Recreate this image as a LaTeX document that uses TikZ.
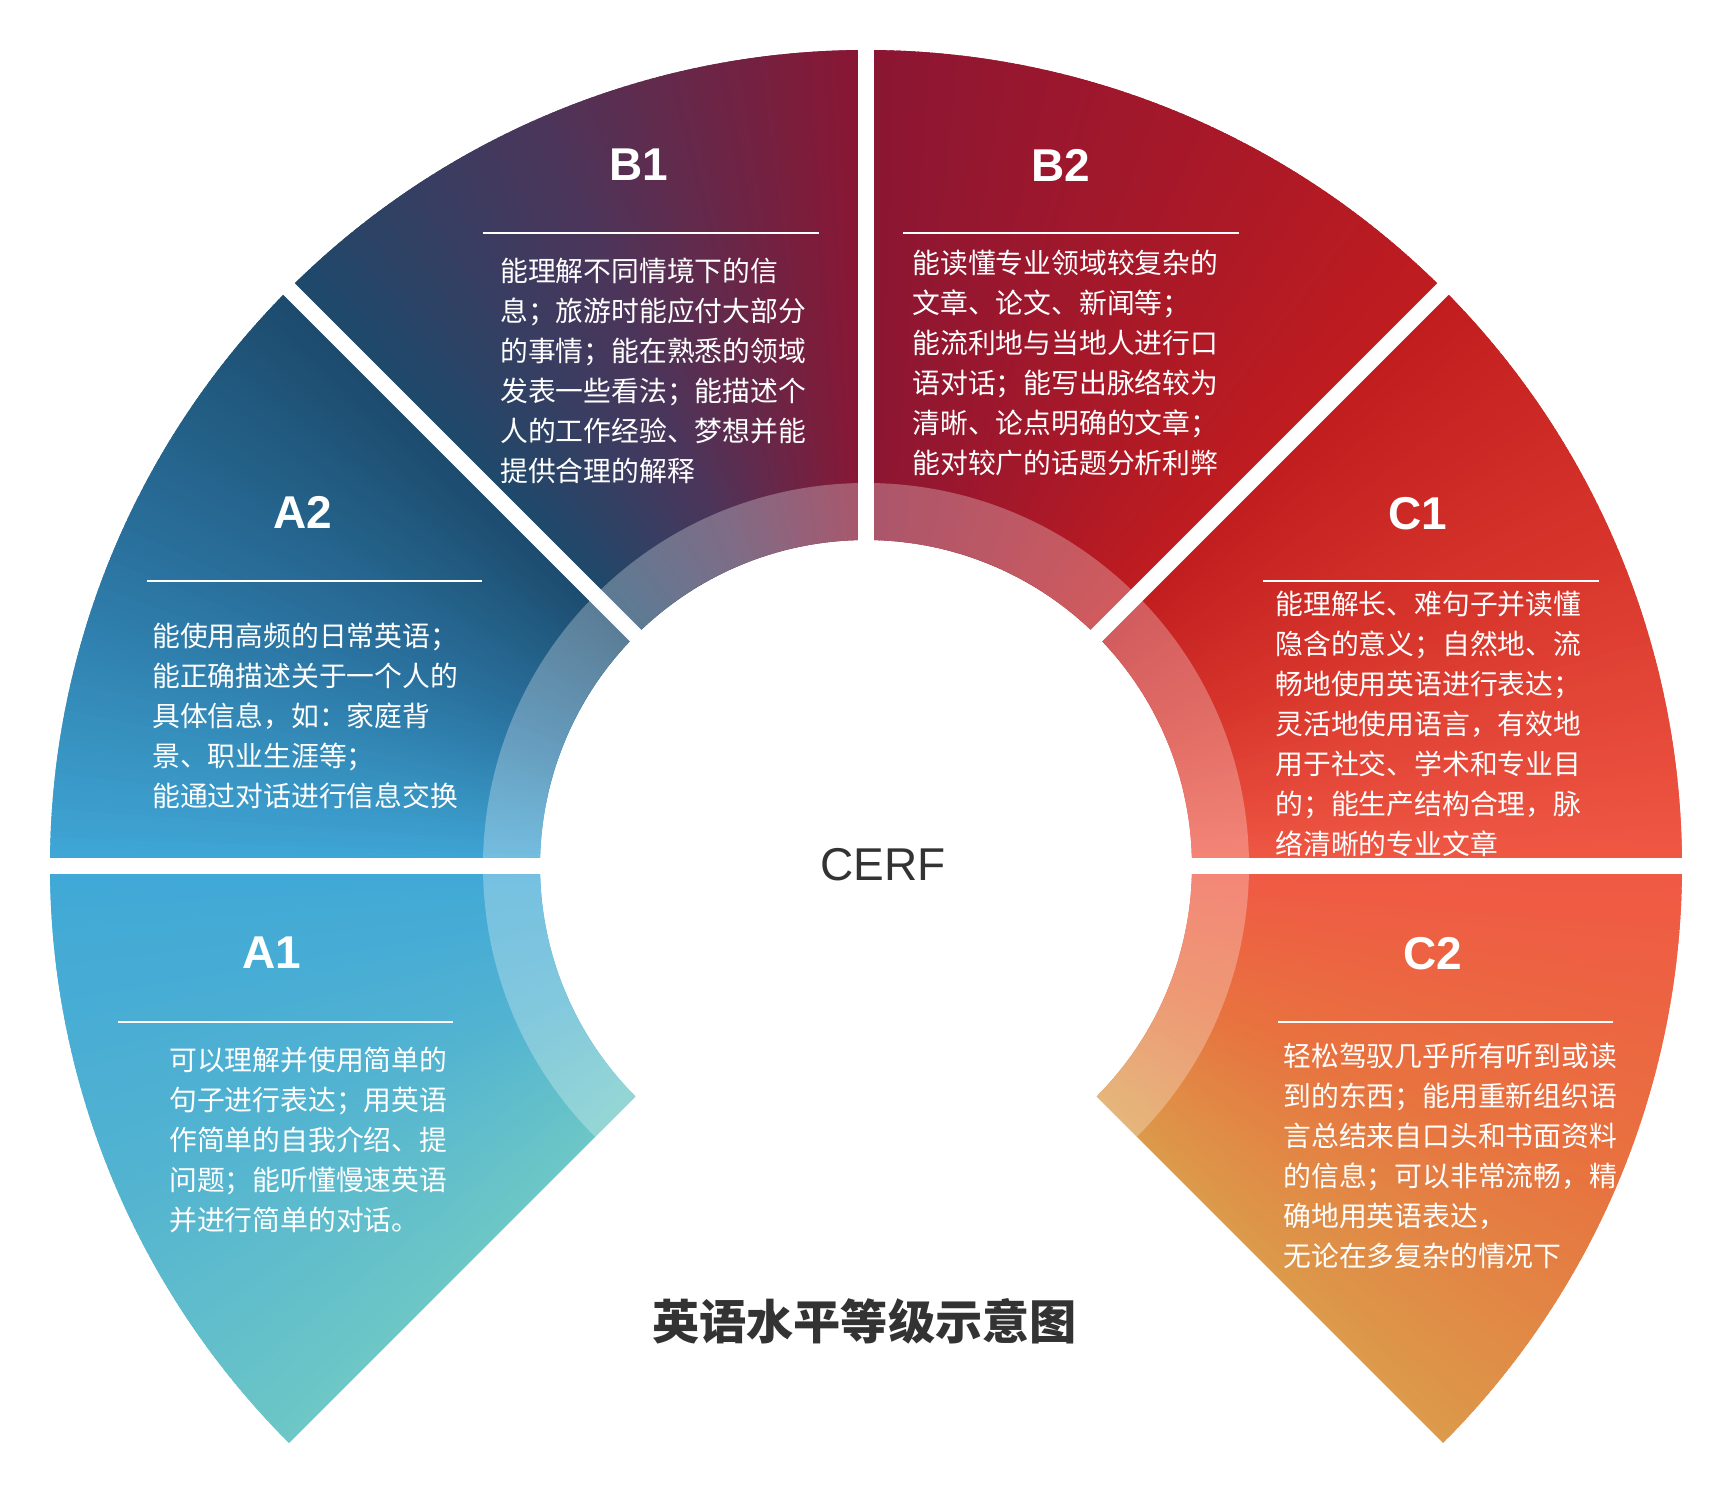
\documentclass[tikz,border=0pt]{standalone}
\usepackage{fontspec}
\setmainfont{Liberation Sans}
\newfontfamily\cjk{Noto Sans CJK SC}
\definecolor{k0}{HTML}{DC9A4A}
\definecolor{k1}{HTML}{E8723F}
\definecolor{k2}{HTML}{F05844}
\definecolor{k3}{HTML}{D8362C}
\definecolor{k4}{HTML}{C01C1F}
\definecolor{k5}{HTML}{A4182A}
\definecolor{k6}{HTML}{8A1633}
\definecolor{k7}{HTML}{4E3459}
\definecolor{k8}{HTML}{1C4A6C}
\definecolor{k9}{HTML}{2A73A0}
\definecolor{k10}{HTML}{40A8D7}
\definecolor{k11}{HTML}{52B3D1}
\definecolor{k12}{HTML}{6DC7C6}
\definecolor{darktext}{HTML}{333333}
\tikzset{
  lvl/.style={font=\fontsize{23}{27}\selectfont\bfseries, text=white, inner sep=0},
  desc/.style={font=\cjk\fontsize{13.9}{20}\selectfont, text=white, align=left, anchor=north west, inner sep=0},
  divider/.style={white, line width=1pt},
  gapline/.style={white, line width=8pt}
}
\begin{document}
\begin{tikzpicture}[x=0.5pt,y=0.5pt]
\useasboundingbox (-866,-620) rectangle (866,866);
\fill[white] (-866,-620) rectangle (866,866);
% conic gradient sectors
\foreach \i in {0,...,11}{
  \pgfmathtruncatemacro\j{\i+1}
  \foreach \k in {0,...,44}{
    \pgfmathsetmacro\ang{-45+22.5*\i+0.5*\k}
    \pgfmathsetmacro\e{min(\ang+0.9,225)}
    \pgfmathtruncatemacro\p{100-\k*100/45}
    \fill[k\i!\p!k\j] (\ang:326) arc[start angle=\ang, end angle=\e, radius=326] -- (\e:816) arc[start angle=\e, end angle=\ang, radius=816] -- cycle;
  }
}
% light inner ring
\fill[white, opacity=0.28] (-45:326) arc[start angle=-45, end angle=225, radius=326] -- (225:383) arc[start angle=225, end angle=-45, radius=383] -- cycle;
% white gaps
\foreach \g in {0,45,90,135,180}{
  \draw[gapline] (0,0) -- (\g:840);
}
% titles
\node[lvl] (A1) at (-594,-87) {A1};
\node[lvl] (A2) at (-563,354) {A2};
\node[lvl] (B1) at (-227,701) {B1};
\node[lvl] (B2) at (195,701) {B2};
\node[lvl] (C1) at (552,352) {C1};
\node[lvl] (C2) at (567,-88) {C2};
% dividers
\draw[divider] (-748,-156) -- (-413,-156);
\draw[divider] (-719,285) -- (-384,285);
\draw[divider] (-383,633) -- (-47,633);
\draw[divider] (37,633) -- (373,633);
\draw[divider] (397,285) -- (733,285);
\draw[divider] (412,-156) -- (747,-156);
% descriptions
\node[desc] (tA1) at (-697,-181) {可以理解并使用简单的\\句子进行表达；用英语\\作简单的自我介绍、提\\问题；能听懂慢速英语\\并进行简单的对话。};
\node[desc] (tA2) at (-714,243) {能使用高频的日常英语；\\能正确描述关于一个人的\\具体信息，如：家庭背\\景、职业生涯等；\\能通过对话进行信息交换};
\node[desc] (tB1) at (-366,608) {能理解不同情境下的信\\息；旅游时能应付大部分\\的事情；能在熟悉的领域\\发表一些看法；能描述个\\人的工作经验、梦想并能\\提供合理的解释};
\node[desc] (tB2) at (46,616) {能读懂专业领域较复杂的\\文章、论文、新闻等；\\能流利地与当地人进行口\\语对话；能写出脉络较为\\清晰、论点明确的文章；\\能对较广的话题分析利弊};
\node[desc] (tC1) at (409,275) {能理解长、难句子并读懂\\隐含的意义；自然地、流\\畅地使用英语进行表达；\\灵活地使用语言，有效地\\用于社交、学术和专业目\\的；能生产结构合理，脉\\络清晰的专业文章};
\node[desc] (tC2) at (417,-177) {轻松驾驭几乎所有听到或读\\到的东西；能用重新组织语\\言总结来自口头和书面资料\\的信息；可以非常流畅，精\\确地用英语表达，\\无论在多复杂的情况下};
% center and caption
\node[font=\fontsize{23}{27}\selectfont, text=darktext, inner sep=0] (cerf) at (17,1) {CERF};
\node[font=\cjk\bfseries\fontsize{23.6}{28}\selectfont, text=darktext, inner sep=0] (caption) at (-1.5,-455) {英语水平等级示意图};
\end{tikzpicture}
\end{document}
